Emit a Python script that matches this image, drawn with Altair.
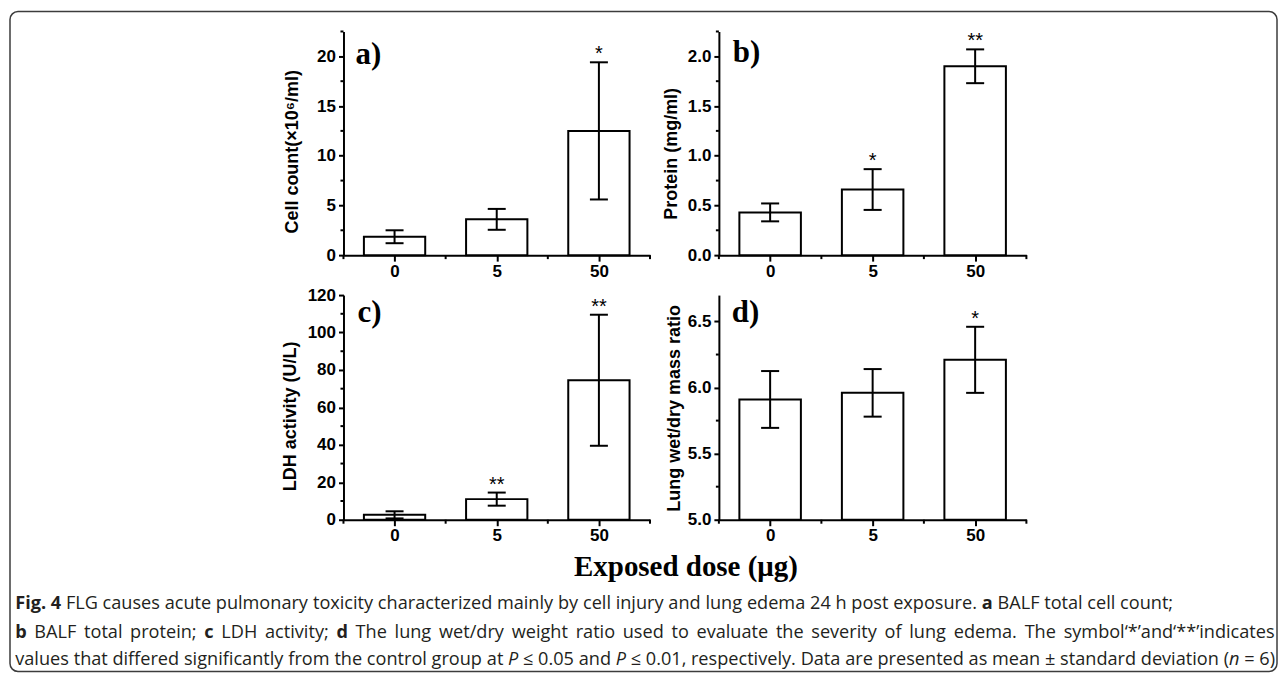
import os, re, glob, struct
import altair as alt
import pandas as pd

# ---------------- data ----------------
doses = ["0", "5", "50"]

cell_mean = [1.85, 3.6, 12.5]
cell_sd = [0.65, 1.05, 6.9]
cell_stars = ["", "", "*"]

protein_mean = [0.43, 0.66, 1.90]
protein_sd = [0.09, 0.205, 0.17]
protein_stars = ["", "*", "**"]

ldh_mean = [2.6, 11.0, 74.5]
ldh_sd = [1.9, 3.5, 35.0]
ldh_stars = ["", "**", "**"]

ratio_mean = [5.91, 5.96, 6.21]
ratio_sd = [0.215, 0.18, 0.25]
ratio_stars = ["", "", "*"]

x_title = "Exposed dose (\u03bcg)"

caption_lines = [
    [("Fig. 4", "b"),
     (" FLG causes acute pulmonary toxicity characterized mainly by cell injury and lung edema 24 h post exposure. ", "r"),
     ("a", "b"), (" BALF total cell count;", "r")],
    [("b", "b"), (" BALF total protein; ", "r"), ("c", "b"), (" LDH activity; ", "r"), ("d", "b"),
     (" The lung wet/dry weight ratio used to evaluate the severity of lung edema. The symbol\u2018*\u2019and\u2018**\u2019indicates", "r")],
    [("values that differed significantly from the control group at ", "r"), ("P", "i"),
     (" \u2264 0.05 and ", "r"), ("P", "i"),
     (" \u2264 0.01, respectively. Data are presented as mean \u00b1 standard deviation (", "r"),
     ("n", "i"), (" = 6)", "r")],
]

# ---------------- text measuring for the caption layout ----------------
def find_font(names):
    roots = ["/usr/share/fonts", "/usr/local/share/fonts",
             os.path.expanduser("~/.fonts"), os.path.expanduser("~/.local/share/fonts")]
    for name in names:
        for root in roots:
            hits = glob.glob(os.path.join(root, "**", name), recursive=True)
            if hits:
                return sorted(hits)[0]
    return None


def ttf_width_fn(path):
    data = open(path, "rb").read()
    base = 0
    if data[:4] == b"ttcf":
        base = struct.unpack(">I", data[12:16])[0]
    num = struct.unpack(">H", data[base + 4:base + 6])[0]
    tables = {}
    for i in range(num):
        rec = data[base + 12 + 16 * i: base + 28 + 16 * i]
        tables[rec[:4].decode("latin1")] = struct.unpack(">I", rec[8:12])[0]
    upem = struct.unpack(">H", data[tables["head"] + 18: tables["head"] + 20])[0]
    nhm = struct.unpack(">H", data[tables["hhea"] + 34: tables["hhea"] + 36])[0]
    hm = tables["hmtx"]
    cm = tables["cmap"]
    nsub = struct.unpack(">H", data[cm + 2:cm + 4])[0]
    sub = None
    for i in range(nsub):
        pid, eid, off = struct.unpack(">HHI", data[cm + 4 + 8 * i: cm + 12 + 8 * i])
        fmt = struct.unpack(">H", data[cm + off: cm + off + 2])[0]
        if fmt == 4:
            sub = cm + off
            if (pid, eid) == (3, 1):
                break
    segx2 = struct.unpack(">H", data[sub + 6:sub + 8])[0]
    n = segx2 // 2
    ends = struct.unpack(">%dH" % n, data[sub + 14: sub + 14 + segx2])
    starts = struct.unpack(">%dH" % n, data[sub + 16 + segx2: sub + 16 + 2 * segx2])
    deltas = struct.unpack(">%dh" % n, data[sub + 16 + 2 * segx2: sub + 16 + 3 * segx2])
    ro = sub + 16 + 3 * segx2
    roffs = struct.unpack(">%dH" % n, data[ro: ro + segx2])

    def glyph(c):
        for s in range(n):
            if ends[s] >= c:
                if starts[s] > c:
                    return 0
                if roffs[s] == 0:
                    return (c + deltas[s]) & 0xFFFF
                addr = ro + 2 * s + roffs[s] + 2 * (c - starts[s])
                g = struct.unpack(">H", data[addr:addr + 2])[0]
                return (g + deltas[s]) & 0xFFFF if g else 0
        return 0

    cache = {}

    def width(text):
        tot = 0.0
        for ch in text:
            if ch not in cache:
                g = glyph(ord(ch))
                if g == 0:
                    cache[ch] = 0.6
                else:
                    g2 = min(g, nhm - 1)
                    cache[ch] = struct.unpack(">H", data[hm + 4 * g2: hm + 4 * g2 + 2])[0] / upem
            tot += cache[ch]
        return tot
    return width


def fallback(scale):
    return lambda t: sum((0.27 if c == " " else 0.55) * scale for c in t)


try:
    reg_path = find_font(["OpenSans-Regular.ttf", "OpenSans[[]*.ttf", "OpenSans-VariableFont*.ttf", "OpenSans*.ttf"])
    w_reg = ttf_width_fn(reg_path)
except Exception:
    w_reg = fallback(1.0)
try:
    w_bold = ttf_width_fn(find_font(["OpenSans-Bold.ttf"]))
except Exception:
    w_bold = lambda t: w_reg(t) * 1.06
try:
    w_it = ttf_width_fn(find_font(["OpenSans-Italic.ttf", "OpenSans-Italic[[]*.ttf"]))
except Exception:
    w_it = w_reg
wfn = {"r": w_reg, "b": w_bold, "i": w_it}

cap_x0 = 5.25
cap_ends = [1058, 1267, 1267]
cap_base = [314, 343, 371]

line_tokens = []
for line in caption_lines:
    toks = []
    for t, s in line:
        for p in re.split(r"( +)", t):
            if p:
                toks.append((p, s, p.startswith(" ")))
    line_tokens.append(toks)

line_em = [sum(wfn[s](p) for p, s, sp in toks) for toks in line_tokens]
cap_fs = (cap_ends[2] - cap_x0) / line_em[2]
cap_fs = max(13.0, min(19.0, cap_fs))

seg_rows = []
for li, toks in enumerate(line_tokens):
    natural = sum(wfn[s](p) * cap_fs for p, s, sp in toks)
    nsp = sum(len(p) for p, s, sp in toks if sp)
    extra = max(0.0, (cap_ends[li] - cap_x0 - natural) / nsp) if nsp else 0.0
    cur = cap_x0
    for p, s, sp in toks:
        if sp:
            cur += wfn[s](p) * cap_fs + extra * len(p)
        else:
            seg_rows.append({"x": cur, "y": cap_base[li], "text": p, "style": s})
            cur += wfn[s](p) * cap_fs
seg_df = pd.DataFrame(seg_rows)

# ---------------- panels ----------------
AX_FONT = "Liberation Sans"


def panel(means, sds, stars, ymin, ymax, major, minor, fmt, title, letter,
          tpad, ty, lx, ly, w, h):
    df = pd.DataFrame({"dose": doses, "pos": [i + 0.5 for i in range(len(doses))],
                       "mean": means, "sd": sds, "star": stars,
                       "base": [ymin] * len(doses)})
    expr = " : ".join("datum.value < %d ? '%s'" % (i + 1, d) for i, d in enumerate(doses[:-1]))
    expr += " : '%s'" % doses[-1]
    xscale = alt.Scale(domain=[0, len(doses)], nice=False, zero=False)
    yscale = alt.Scale(domain=[ymin, ymax], nice=False, zero=False)
    xaxis = alt.Axis(values=[i + 0.5 for i in range(len(doses))], labelExpr=expr,
                     tickSize=6, labelPadding=2, labelFlush=False, grid=False)
    yaxis = alt.Axis(values=major, format=fmt, tickSize=5, labelPadding=3,
                     labelFlush=False, grid=False, titlePadding=tpad, titleY=ty)

    def X(f):
        return alt.X(f, scale=xscale, axis=xaxis, title=None)

    def Y(f):
        return alt.Y(f, scale=yscale, axis=yaxis, title=title)

    base = alt.Chart(df).transform_calculate(
        lo="datum.mean - datum.sd", hi="datum.mean + datum.sd",
        xl="datum.pos - 0.3", xr="datum.pos + 0.3",
        cl="datum.pos - 0.088", cr="datum.pos + 0.088")

    bars = base.mark_rect(fill="white", stroke="black", strokeWidth=2).encode(
        x=X("xl:Q"), x2="xr:Q", y=Y("mean:Q"), y2="base:Q")
    err = base.mark_rule(color="black", strokeWidth=2).encode(
        x=X("pos:Q"), y=Y("lo:Q"), y2="hi:Q")
    cap_hi = base.mark_rule(color="black", strokeWidth=2).encode(
        x=X("cl:Q"), x2="cr:Q", y=Y("hi:Q"))
    cap_lo = base.mark_rule(color="black", strokeWidth=2).encode(
        x=X("cl:Q"), x2="cr:Q", y=Y("lo:Q"))
    star = base.transform_filter("datum.star != ''").mark_text(
        font=AX_FONT, fontSize=20, baseline="alphabetic", dy=-2, color="black").encode(
        x=X("pos:Q"), y=Y("hi:Q"), text="star:N")

    minor_df = pd.DataFrame({"v": minor})
    yminor = alt.Chart(minor_df).mark_rule(color="black", strokeWidth=2).encode(
        y=Y("v:Q"), x=alt.value(-3), x2=alt.value(0))
    xb_df = pd.DataFrame({"b": list(range(len(doses) + 1))})
    xminor = alt.Chart(xb_df).mark_rule(color="black", strokeWidth=2).encode(
        x=X("b:Q"), y=alt.value(h), y2=alt.value(h + 4))
    lab = alt.Chart(pd.DataFrame({"t": [letter]})).mark_text(
        font="Liberation Serif", fontWeight="bold", fontSize=31, align="left",
        baseline="alphabetic", color="black").encode(
        x=alt.value(lx), y=alt.value(ly), text="t:N")

    return alt.layer(bars, err, cap_hi, cap_lo, star, yminor, xminor, lab).properties(
        width=w, height=h)


pa = panel(cell_mean, cell_sd, cell_stars, 0, 22.5, [0, 5, 10, 15, 20],
           [2.5, 7.5, 12.5, 17.5, 22.5], "d", "Cell count(\u00d710\u2076/ml)", "a)",
           15, 120, 12, 33, 307, 224)
pb = panel(protein_mean, protein_sd, protein_stars, 0, 2.25, [0, 0.5, 1.0, 1.5, 2.0],
           [0.25, 0.75, 1.25, 1.75, 2.25], ".1f", "Protein (mg/ml)", "b)",
           7, 122, 14, 31, 308, 224)
pc = panel(ldh_mean, ldh_sd, ldh_stars, 0, 120, [0, 20, 40, 60, 80, 100, 120],
           [10, 30, 50, 70, 90, 110], "d", "LDH activity (U/L)", "c)",
           8, 121, 14, 27, 307, 225)
pd_ = panel(ratio_mean, ratio_sd, ratio_stars, 5.0, 6.7, [5.0, 5.5, 6.0, 6.5],
            [5.25, 5.75, 6.25], ".1f", "Lung wet/dry mass ratio", "d)",
            4, 113, 13, 27, 308, 225)

# ---------------- spacer and caption holder ----------------
spacer = alt.Chart(pd.DataFrame({"t": [""]})).mark_text().encode(
    x=alt.value(0), y=alt.value(0), text="t:N").properties(width=265, height=224)

border = alt.Chart(pd.DataFrame({"k": [0]})).mark_rect(
    fill="white", fillOpacity=0, stroke="#3c3c3c", strokeWidth=1.5, cornerRadius=8).encode(
    x=alt.value(0), x2=alt.value(1269), y=alt.value(-284), y2=alt.value(377))
xtitle = alt.Chart(pd.DataFrame({"t": [x_title]})).mark_text(
    font="Liberation Serif", fontWeight="bold", fontSize=29, align="center",
    baseline="alphabetic", color="black").encode(
    x=alt.value(677), y=alt.value(281), text="t:N")


def cap_layer(style, weight, fstyle):
    return alt.Chart(seg_df).transform_filter("datum.style == '%s'" % style).mark_text(
        font="Open Sans", fontSize=cap_fs, fontWeight=weight, fontStyle=fstyle,
        align="left", baseline="alphabetic", color="#231f20").encode(
        x=alt.X("x:Q", scale=None, axis=None), y=alt.Y("y:Q", scale=None, axis=None),
        text="text:N")


holder = alt.layer(border, xtitle, cap_layer("r", "normal", "normal"),
                   cap_layer("b", "bold", "normal"),
                   cap_layer("i", "normal", "italic")).properties(width=265, height=225)

chart = alt.concat(spacer, pa, pb, holder, pc, pd_, columns=3,
                   spacing={"row": 40, "column": 69}, bounds="flush").properties(
    padding={"top": 1, "left": 0, "right": 0, "bottom": 0},
    background="white"
).configure_view(stroke="transparent").configure_axis(
    labelFont=AX_FONT, labelFontSize=17, labelFontWeight="bold", labelColor="black",
    titleFont=AX_FONT, titleFontSize=18, titleFontWeight="bold", titleColor="black",
    domainColor="black", domainWidth=2, tickColor="black", tickWidth=2, grid=False)

chart.save("out.html", embed_options={"renderer": "svg", "actions": False})
